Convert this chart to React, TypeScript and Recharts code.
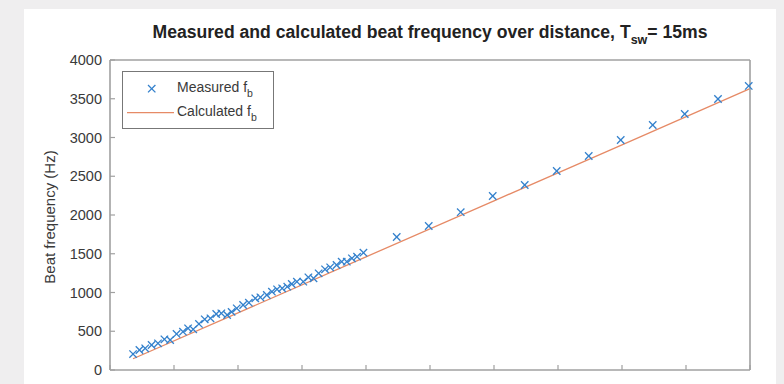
// Beat frequency vs. distance: measured points (x markers) and the calculated line, MATLAB-style box axes.
import { ComposedChart, Legend, Line, Scatter, XAxis, YAxis } from "recharts";

const measuredDistance = [
  0.36, 0.46, 0.55, 0.65, 0.75, 0.85, 0.94, 1.04, 1.14, 1.22, 1.3, 1.39, 1.48, 1.57,
  1.66, 1.74, 1.83, 1.9, 1.98, 2.08, 2.17, 2.27, 2.35, 2.45, 2.53, 2.61, 2.69, 2.77,
  2.84, 2.92, 3.02, 3.1, 3.18, 3.26, 3.36, 3.44, 3.54, 3.62, 3.7, 3.78, 3.86, 3.96,
  4.48, 4.98, 5.48, 5.98, 6.48, 6.98, 7.48, 7.98, 8.48, 8.98, 9.5, 9.98,
];
const measuredFreq = [
  206, 258, 280, 323, 344, 396, 387, 465, 495, 538, 525, 594, 654, 667,
  723, 731, 710, 750, 796, 839, 869, 925, 938, 968, 1011, 1041, 1054, 1075,
  1110, 1140, 1140, 1196, 1183, 1247, 1299, 1325, 1355, 1398, 1398, 1441, 1462, 1514,
  1716, 1858, 2036, 2245, 2387, 2568, 2761, 2968, 3161, 3303, 3497, 3665,
];
const calcDistance = [0.36, 2, 4, 6, 8, 10];
const calcFreq = [145, 737, 1460, 2183, 2906, 3630];

const xTicks = [0, 1, 2, 3, 4, 5, 6, 7, 8, 9, 10];
const yTicks = [0, 500, 1000, 1500, 2000, 2500, 3000, 3500, 4000];

const BLUE = "#3380cc";
const ORANGE = "#e68a66";
const AXIS = "#a0a0a0";
const TEXT = "#3a3a3a";
const FONT = "'Liberation Sans', Arial, Helvetica, sans-serif";

const measured = measuredDistance.map((d, i) => ({ d, f: measuredFreq[i] }));
const calculated = calcDistance.map((d, i) => ({ d, f: calcFreq[i] }));

// marcador "x" como el de MATLAB
const XMark = (p: any) => {
  const { cx, cy } = p;
  const s = 3.7;
  return (
    <g stroke={BLUE} strokeWidth={1.3}>
      <line x1={cx - s} y1={cy - s} x2={cx + s} y2={cy + s} />
      <line x1={cx - s} y1={cy + s} x2={cx + s} y2={cy - s} />
    </g>
  );
};

// ticks hacia dentro; con tickSize 0 las coordenadas caen justo sobre el eje
const BottomTick = (p: any) => <line x1={p.x} x2={p.x} y1={p.y} y2={p.y - 5} stroke={AXIS} strokeWidth={1.2} />;
const TopTick = (p: any) => <line x1={p.x} x2={p.x} y1={p.y} y2={p.y + 5} stroke={AXIS} strokeWidth={1.2} />;
const RightTick = (p: any) => <line x1={p.x} x2={p.x - 6} y1={p.y} y2={p.y} stroke={AXIS} strokeWidth={1.2} />;
const LeftTick = (p: any) => (
  <g>
    <line x1={p.x} x2={p.x + 5} y1={p.y} y2={p.y} stroke={AXIS} strokeWidth={1.2} />
    <text x={p.x - 8} y={p.y} dy="0.36em" textAnchor="end" fontSize={14.5} fill={TEXT} fontFamily={FONT}>
      {p.payload.value}
    </text>
  </g>
);

const LegendBox = () => (
  <div
    style={{
      boxSizing: "border-box",
      width: 152,
      height: 58,
      border: "1.2px solid #777",
      background: "#fff",
      position: "relative",
      fontFamily: FONT,
      fontSize: 14,
      color: TEXT,
    }}
  >
    <svg width={60} height={58} style={{ position: "absolute", left: 0, top: 0 }}>
      <XMark cx={28.7} cy={16.7} />
      <line x1={4} x2={51} y1={40.7} y2={40.7} stroke={ORANGE} strokeWidth={1.3} />
    </svg>
    <div style={{ position: "absolute", left: 54, top: 7, whiteSpace: "nowrap" }}>
      Measured f<span style={{ fontSize: 10.5, position: "relative", top: 5 }}>b</span>
    </div>
    <div style={{ position: "absolute", left: 54, top: 31, whiteSpace: "nowrap" }}>
      Calculated f<span style={{ fontSize: 10.5, position: "relative", top: 5 }}>b</span>
    </div>
  </div>
);

export default function App() {
  return (
    <div style={{ position: "fixed", left: 0, top: 0, width: 784, height: 384, background: "#efeeef", overflow: "hidden" }}>
      <div style={{ position: "absolute", left: 24, top: 9, width: 752, height: 380, background: "#fff" }} />
      <div
        style={{
          position: "absolute",
          left: 110,
          top: 23,
          width: 640,
          textAlign: "center",
          fontFamily: FONT,
          fontWeight: "bold",
          fontSize: 17.6,
          lineHeight: "19px",
          color: "#222",
          whiteSpace: "nowrap",
        }}
      >
        Measured and calculated beat frequency over distance, T
        <span style={{ fontSize: 12.5, position: "relative", top: 6 }}>sw</span>= 15ms
      </div>
      <div
        style={{
          position: "absolute",
          left: 50 - 100,
          top: 217 - 9,
          width: 200,
          height: 18,
          lineHeight: "18px",
          textAlign: "center",
          transform: "rotate(-90deg)",
          fontFamily: FONT,
          fontSize: 15,
          color: TEXT,
          whiteSpace: "nowrap",
        }}
      >
        Beat frequency (Hz)
      </div>
      <div style={{ position: "absolute", left: 0, top: 0 }}>
        <ComposedChart width={784} height={384} margin={{ top: 59, right: 33, bottom: 13, left: 109 }}>
          <XAxis
            dataKey="d"
            type="number"
            domain={[0, 10]}
            ticks={xTicks}
            height={1}
            tickSize={0}
            tickMargin={0}
            tick={BottomTick}
            axisLine={{ stroke: AXIS, strokeWidth: 1.6 }}
            tickLine={false}
            interval={0}
          />
          <XAxis
            xAxisId="top"
            orientation="top"
            dataKey="d"
            type="number"
            domain={[0, 10]}
            ticks={xTicks}
            height={1}
            tickSize={0}
            tickMargin={0}
            tick={TopTick}
            axisLine={{ stroke: AXIS, strokeWidth: 1.6 }}
            tickLine={false}
            interval={0}
          />
          <YAxis
            dataKey="f"
            type="number"
            domain={[0, 4000]}
            ticks={yTicks}
            width={1}
            tickSize={0}
            tickMargin={0}
            tick={LeftTick}
            axisLine={{ stroke: AXIS, strokeWidth: 1.6 }}
            tickLine={false}
            interval={0}
          />
          <YAxis
            yAxisId="right"
            orientation="right"
            dataKey="f"
            type="number"
            domain={[0, 4000]}
            ticks={yTicks}
            width={1}
            tickSize={0}
            tickMargin={0}
            tick={RightTick}
            axisLine={{ stroke: AXIS, strokeWidth: 1.6 }}
            tickLine={false}
            interval={0}
          />
          <Line
            data={calculated}
            dataKey="f"
            stroke={ORANGE}
            strokeWidth={1.3}
            dot={false}
            activeDot={false}
            isAnimationActive={false}
          />
          <Scatter data={measured} dataKey="f" shape={XMark} isAnimationActive={false} />
          <Legend
            layout="horizontal"
            verticalAlign="middle"
            align="center"
            wrapperStyle={{ top: 71, left: 122, width: 152, height: 58 }}
            content={() => <LegendBox />}
          />
        </ComposedChart>
      </div>
    </div>
  );
}
